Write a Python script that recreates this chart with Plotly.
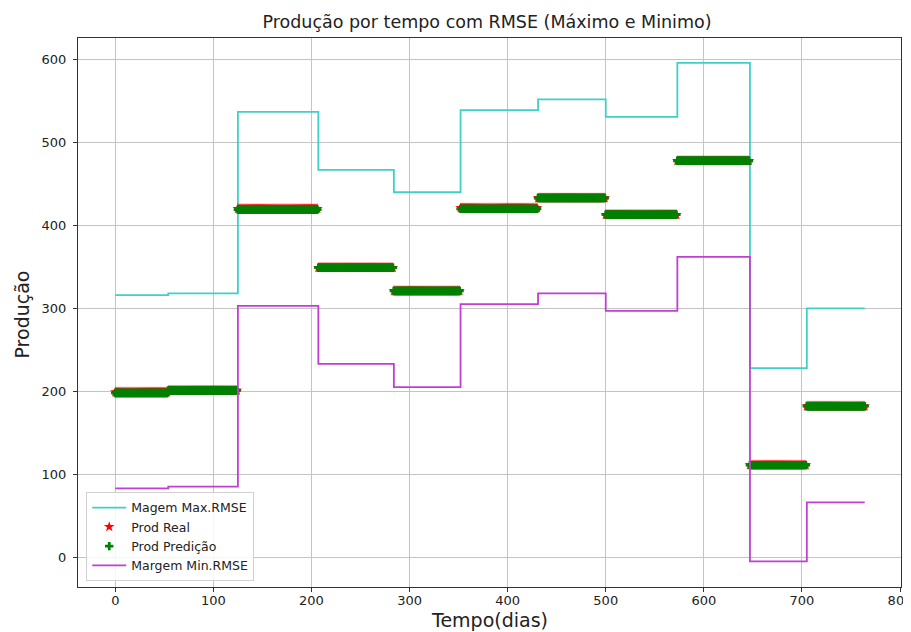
import numpy as np
import plotly.graph_objects as go

# segment start days (step changes) and final day
seg_start = [0, 54, 125, 207, 284, 352, 431, 500, 573, 647, 705]
last_day = 764

prod_real = [199, 201, 420, 349, 321, 421, 433, 413, 478, 111, 182]
prod_pred = [198, 201, 419, 349, 321, 420, 433, 413, 478, 111, 182]
max_rmse = [316, 318, 537, 467, 440, 539, 552, 531, 596, 228, 300]
min_rmse = [83, 85, 303, 233, 205, 305, 318, 297, 362, -5, 66]

x_ticks = [0, 100, 200, 300, 400, 500, 600, 700, 800]
y_ticks = [0, 100, 200, 300, 400, 500, 600]

# expand the segment values to daily points
bounds = seg_start + [last_day + 1]
days = np.arange(0, last_day + 1)
lens = np.diff(bounds)
real_daily = np.repeat(prod_real, lens)
pred_daily = np.repeat(prod_pred, lens)

line_x = seg_start + [last_day]
max_y = max_rmse + [max_rmse[-1]]
min_y = min_rmse + [min_rmse[-1]]

fig = go.Figure()
fig.add_trace(go.Scatter(x=line_x, y=max_y, mode="lines", line_shape="hv",
                         line=dict(color="#3fd0c6", width=1.8), name="Magem Max.RMSE"))
fig.add_trace(go.Scatter(x=days, y=real_daily, mode="markers",
                         marker=dict(symbol="star", color="red", size=8, line=dict(width=0)),
                         name="Prod Real"))
fig.add_trace(go.Scatter(x=days, y=pred_daily, mode="markers",
                         marker=dict(symbol="cross", color="green", size=7, line=dict(width=0)),
                         name="Prod Predição"))
fig.add_trace(go.Scatter(x=line_x, y=min_y, mode="lines", line_shape="hv",
                         line=dict(color="#c03fd2", width=1.8), name="Margem Min.RMSE"))

font = "DejaVu Sans, Arial, sans-serif"
fig.update_layout(
    width=911, height=632,
    paper_bgcolor="white", plot_bgcolor="white",
    margin=dict(l=70, r=18, t=30, b=53, autoexpand=False),
    font=dict(family=font, color="#222", size=13),
    title=dict(text="Produção por tempo com RMSE (Máximo e Minimo)",
               x=(487 - 8) / 911, xanchor="center", y=1 - 14 / 632, yanchor="middle",
               font=dict(size=17.5, color="#222", family=font)),
    showlegend=True,
    legend=dict(x=0.01, y=0.011, xanchor="left", yanchor="bottom",
                bgcolor="rgba(255,255,255,0.85)", bordercolor="#d0d0d0", borderwidth=1,
                font=dict(size=12.5, family=font, color="#222"),
                tracegroupgap=0, itemwidth=34),
    annotations=[
        dict(text="Tempo(dias)", x=0.5, y=-33 / 549, xref="paper", yref="paper",
             xanchor="center", yanchor="middle", showarrow=False,
             font=dict(size=19, family=font, color="#222")),
        dict(text="Produção", x=-57 / 823, y=0.5 - 2 / 549, xref="paper", yref="paper",
             xanchor="center", yanchor="middle", showarrow=False, textangle=-90,
             font=dict(size=19, family=font, color="#222")),
    ],
)
fig.update_xaxes(range=[-38, 801], tickvals=x_ticks, ticktext=[str(v) for v in x_ticks],
                 automargin=False, ticklabelstandoff=-3,
                 showgrid=True, gridcolor="#c4c4c4", gridwidth=1,
                 showline=True, linecolor="#333", linewidth=1, mirror=True,
                 ticks="outside", ticklen=4, tickcolor="#333", zeroline=False)
fig.update_yaxes(range=[-36, 626], tickvals=y_ticks, ticktext=[str(v) for v in y_ticks],
                 automargin=False, ticklabelstandoff=4,
                 showgrid=True, gridcolor="#c4c4c4", gridwidth=1,
                 showline=True, linecolor="#333", linewidth=1, mirror=True,
                 ticks="outside", ticklen=4, tickcolor="#333", zeroline=False)

fig.write_html("out.html")
